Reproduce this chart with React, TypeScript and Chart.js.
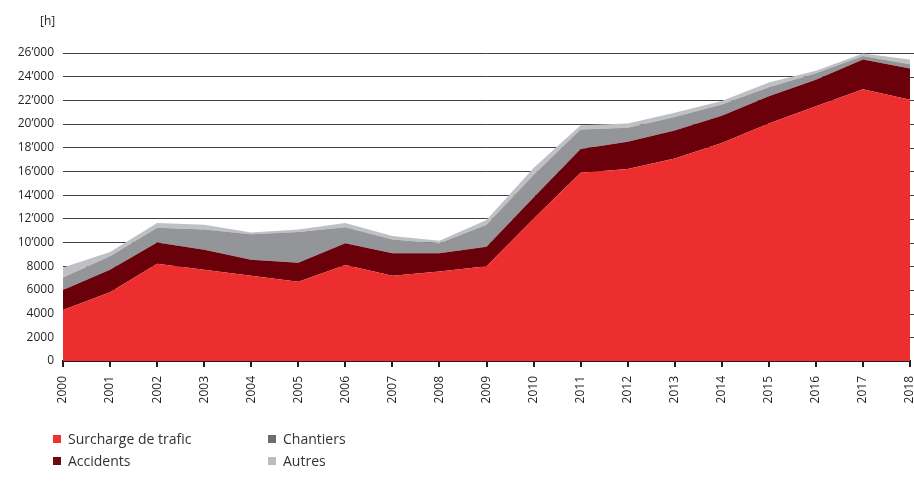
import React, { useEffect, useRef } from "react";
import { Chart, registerables } from "chart.js";

Chart.register(...registerables);

const years = ["2000","2001","2002","2003","2004","2005","2006","2007","2008","2009","2010","2011","2012","2013","2014","2015","2016","2017","2018"];
const surcharge = [4300,5800,8200,7700,7200,6700,8100,7200,7550,8000,12000,15900,16200,17100,18400,20050,21500,22950,22050];
const accidents = [1700,1900,1800,1700,1350,1600,1850,1900,1550,1650,1800,2000,2300,2350,2300,2300,2250,2500,2650];
const chantiers = [1050,1150,1250,1700,2150,2600,1350,1150,850,1850,1900,1650,1200,1150,950,750,550,300,350];
const autres = [850,350,400,400,150,200,350,300,200,400,600,350,350,350,300,400,200,200,400];

const seriesNames = ["Surcharge de trafic", "Accidents", "Chantiers", "Autres"];
const areaColors = ["#EC2F2E", "#6A0009", "#939598", "#BFC0C3"];
const legendColors = ["#EE3130", "#6D0A0E", "#6D6E71", "#BCBDC0"];

const FONT = "'Open Sans', 'Noto Sans', sans-serif";
const TEXT = "#231f20";

function fmt(v: number): string {
  if (v >= 10000) {
    const th = Math.floor(v / 1000);
    const rest = String(v % 1000).padStart(3, "0");
    return th + "\u2019" + rest;
  }
  return String(v);
}

export default function App() {
  const ref = useRef<HTMLCanvasElement | null>(null);

  useEffect(() => {
    if (!ref.current) return;
    const extendGrid = {
      id: "extendGrid",
      afterDraw(chart: any) {
        const y = chart.scales.y;
        const ctx = chart.ctx;
        ctx.save();
        ctx.strokeStyle = "rgba(35,31,32,0.85)";
        ctx.lineWidth = 1;
        y.ticks.forEach((t: any) => {
          if (t.value === 0) return;
          const py = Math.round(y.getPixelForValue(t.value)) + 0.5;
          ctx.beginPath();
          ctx.moveTo(chart.chartArea.right, py);
          ctx.lineTo(914, py);
          ctx.stroke();
        });
        ctx.restore();
      },
    };
    const data = [surcharge, accidents, chantiers, autres];
    const chart = new Chart(ref.current, {
      type: "line",
      data: {
        labels: years,
        datasets: data.map((d, i) => ({
          label: seriesNames[i],
          data: d,
          backgroundColor: areaColors[i],
          borderColor: areaColors[i],
          borderWidth: 0,
          pointRadius: 0,
          tension: 0,
          fill: i === 0 ? "origin" : "-1",
        })),
      },
      options: {
        responsive: false,
        animation: false,
        devicePixelRatio: 1,
        layout: { padding: { top: 53, right: 20, bottom: 0, left: 0 } },
        plugins: {
          legend: { display: false },
          tooltip: { enabled: false },
        },
        scales: {
          x: {
            z: 1,
            offset: false,
            grid: {
              display: true,
              drawOnChartArea: false,
              drawTicks: true,
              tickLength: 6,
              lineWidth: 2,
              color: TEXT,
            },
            border: { display: true, color: TEXT, width: 2 },
            ticks: {
              autoSkip: false,
              minRotation: 90,
              maxRotation: 90,
              padding: 9,
              color: TEXT,
              font: { family: FONT, size: 12 },
            },
            afterFit(scale: any) {
              scale.height = 497 - 361;
              scale.paddingLeft = 0;
              scale.paddingRight = 0;
            },
          },
          y: {
            z: 1,
            stacked: true,
            min: 0,
            max: 26000,
            grid: {
              drawTicks: false,
              color: "rgba(35,31,32,0.85)",
              lineWidth: 1,
            },
            border: { display: false },
            ticks: {
              stepSize: 2000,
              padding: 9,
              color: TEXT,
              font: { family: FONT, size: 12 },
              callback: (v: any) => fmt(Number(v)),
            },
            afterFit(scale: any) {
              scale.width = 63;
              scale.paddingTop = 0;
              scale.paddingBottom = 0;
            },
          },
        },
      },
      plugins: [extendGrid],
    });
    return () => chart.destroy();
  }, []);

  const legendItem = (i: number, left: number, top: number) => (
    <div
      key={i}
      style={{
        position: "absolute",
        left,
        top,
        display: "flex",
        alignItems: "center",
        fontFamily: FONT,
        fontSize: 14,
        color: "#333",
        lineHeight: "16px",
        whiteSpace: "nowrap",
      }}
    >
      <span
        style={{
          display: "inline-block",
          width: 8,
          height: 8,
          background: legendColors[i],
          marginRight: 7,
        }}
      />
      {seriesNames[i]}
    </div>
  );

  return (
    <div
      style={{
        position: "fixed",
        left: 0,
        top: 0,
        width: 914,
        height: 497,
        overflow: "hidden",
        background: "#fff",
      }}
    >
      <canvas ref={ref} width={930} height={497} style={{ position: "absolute", left: 0, top: 0 }} />
      <div
        style={{
          position: "absolute",
          left: 40,
          top: 12,
          fontFamily: FONT,
          fontSize: 12,
          color: TEXT,
        }}
      >
        [h]
      </div>
      {legendItem(0, 53, 431)}
      {legendItem(1, 53, 453)}
      {legendItem(2, 268, 431)}
      {legendItem(3, 268, 453)}
    </div>
  );
}
